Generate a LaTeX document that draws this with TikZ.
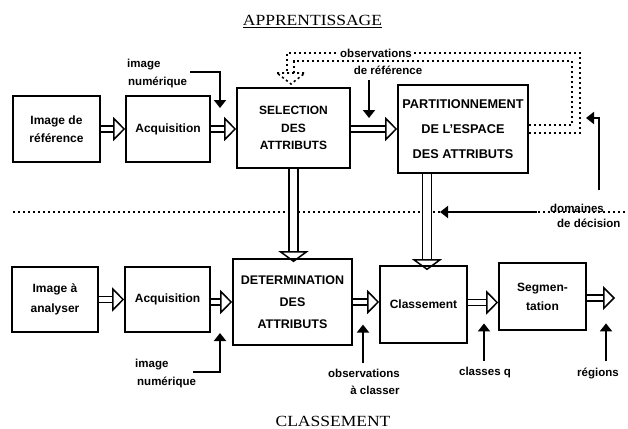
\documentclass[tikz,border=0pt]{standalone}
\usepackage{fontspec}
\setmainfont{Liberation Sans}
\newfontfamily\serifx[FakeStretch=1.13]{Liberation Serif}
\usetikzlibrary{arrows.meta,calc}
\newcommand\bxf{\bfseries\fontsize{12}{17.5}\selectfont}
\newcommand\lbf{\bfseries\fontsize{11.5}{16}\selectfont}
\begin{document}
\begin{tikzpicture}[x=1pt,y=-1pt,
  box/.style={draw, line width=1.6pt, inner sep=0pt, align=center, font=\bxf},
  lbl/.style={inner sep=0pt, font=\lbf},
  ttl/.style={inner sep=0pt, font=\serifx\fontsize{15.5}{18}\selectfont},
  dblh/.style={draw, line width=1.5pt, double=white, double distance=4.5pt,
    -{Triangle[open, length=12pt, width=24pt, line width=1.5pt]}},
  dblv/.style={draw, line width=1.5pt, double=white, double distance=7.5pt,
    -{Triangle[open, length=11pt, width=30pt, line width=1.5pt]}},
  arr/.style={draw, line width=1.9pt, -{Triangle[length=8pt, width=12pt]}},
  dotl/.style={draw, line width=1.6pt, dash pattern=on 2.2pt off 2.8pt},
]
\useasboundingbox (0,0) rectangle (628,428);

% titles
\node[ttl, anchor=base] (t1) at (312.5,25.5) {\underline{APPRENTISSAGE}};
\node[ttl, anchor=base] (t2) at (333,426) {CLASSEMENT};

% boxes, top row
\node[box, minimum width=87pt, minimum height=66pt] (ref) at (56.5,129) {Image de\\référence};
\node[box, minimum width=84pt, minimum height=66pt] (acq1) at (168,129) {Acquisition};
\node[box, minimum width=113pt, minimum height=80pt] (sel) at (293.5,128) {SELECTION\\DES\\ATTRIBUTS};
\node[box, minimum width=130pt, minimum height=88pt, font=\bfseries\fontsize{12.7}{25}\selectfont] (part) at (463,129) {PARTITIONNEMENT\\DE L'ESPACE\\DES ATTRIBUTS};

% boxes, bottom row
\node[box, minimum width=86pt, minimum height=65pt, font=\bfseries\fontsize{12}{20}\selectfont] (ana) at (55,299.5) {Image à\\analyser};
\node[box, minimum width=85pt, minimum height=65pt] (acq2) at (167.5,299.5) {Acquisition};
\node[box, minimum width=119pt, minimum height=86pt, font=\bfseries\fontsize{12.5}{22}\selectfont] (det) at (292.5,302) {DETERMINATION\\DES\\ATTRIBUTS};
\node[box, minimum width=87pt, minimum height=77pt] (cls) at (423.5,304.5) {Classement};
\node[box, minimum width=87pt, minimum height=67pt, font=\bfseries\fontsize{12}{19}\selectfont] (seg) at (542.5,296.5) {Segmen-\\tation};

% labels
\node[lbl, anchor=west] (in1a) at (127,65) {image};
\node[lbl, anchor=west] (in1b) at (128,82) {numérique};
\node[lbl] (obs1b) at (388,70) {de référence};
\node[lbl, anchor=west] (dom1) at (550,208) {domaines};
\node[lbl, anchor=west] (dom2) at (557,223) {de décision};
\node[lbl, anchor=west] (in2a) at (135,365) {image};
\node[lbl, anchor=west] (in2b) at (137,382) {numérique};
\node[lbl] (oc1) at (364,373) {observations};
\node[lbl] (oc2) at (375,390) {à classer};
\node[lbl] (cq) at (485,373) {classes q};
\node[lbl] (rg) at (598,373) {régions};

% separator and feedback loop (dotted)
\coordinate (sepL) at (13,212);
\coordinate (sepR) at (627,212);
\draw[dotl] (sepL) -- (sepR);
\draw[dotl] ($(part.east)+(0,4)$) -- (580,133) -- (580,53) -- (287,53) -- (287,73);
\draw[dotl] ($(part.east)+(0,-4)$) -- (572,125) -- (572,61) -- (294,61) -- (294,73);
\draw[dotl] (277,73) -- (305,73) -- (291,84) -- cycle;
\node[lbl, fill=white, inner sep=1pt] (obs1a) at (376,53) {observations};

% double arrows
\draw[dblh] (ref) -- (acq1);
\draw[dblh] (acq1.east) -- (acq1.east -| sel.west);
\draw[dblh] (sel.east |- part.west) -- (part.west);
\draw[dblh] (ana) -- (acq2);
\draw[dblh] (det.west -| acq2.east) -- (det.west);
\draw[dblh] (det.east) -- (det.east -| cls.west);
\coordinate (c1) at ($(cls.east)+(0,-2)$);
\draw[dblh] (c1) -- (c1 -| seg.west);
\coordinate (segout) at (615,298);
\draw[dblh] (seg.east |- segout) -- (segout);
\draw[dblv, shorten >=-4pt] (sel.south) -- (sel.south |- det.north);
\coordinate (pv) at (427,0);
\draw[dblv, shorten >=-5pt] (part.south -| pv) -- (cls.north -| pv);

% thin arrows
\coordinate (in1s) at (190,72);
\coordinate (in1t) at (220,108);
\draw[arr] (in1s) -| (in1t);
\coordinate (obs1t) at (369,118);
\draw[arr] ($(obs1b.south -| obs1t)+(0,6)$) -- (obs1t);
\coordinate (dm1s) at (599,190);
\coordinate (dm1t) at (586,118);
\draw[arr] (dm1s) |- (dm1t);
\coordinate (dm2s) at (537,212);
\coordinate (dm2t) at (440,212);
\draw[arr] (dm2s) -- (dm2t);
\coordinate (in2s) at (193,372);
\coordinate (in2t) at (220,333);
\draw[arr] (in2s) -| (in2t);
\draw[arr] ($(oc1.north)+(-1,-6)$) -- ++(0,-38);
\draw[arr] ($(cq.north)+(-1,-6)$) -- ++(0,-38);
\draw[arr] ($(rg.north)+(8,-6)$) -- ++(0,-38);
\end{tikzpicture}
\end{document}
